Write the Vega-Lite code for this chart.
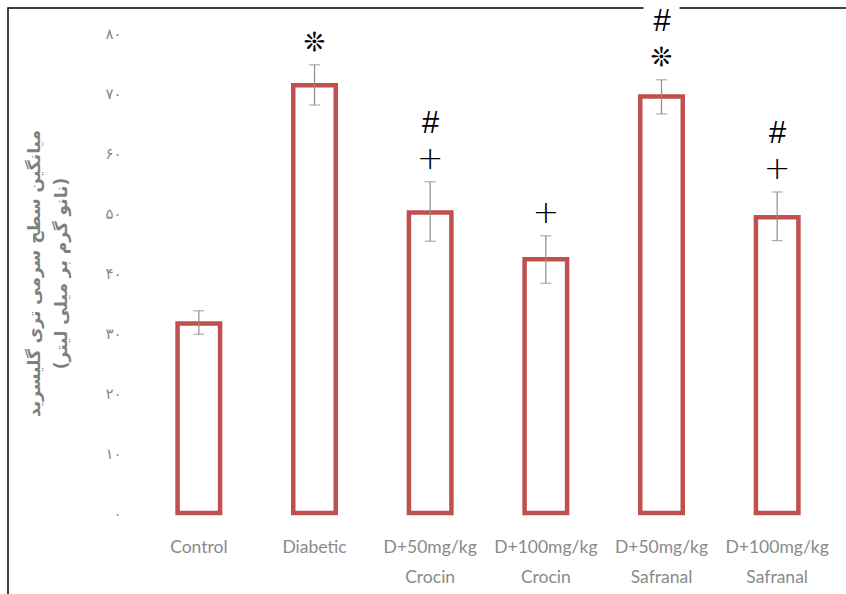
{
  "$schema": "https://vega.github.io/schema/vega-lite/v6.json",
  "width": 842,
  "height": 590,
  "autosize": {"type": "none"},
  "padding": {"left": 8, "top": 8, "right": -4, "bottom": -4},
  "background": "white",
  "config": {"view": {"stroke": "black", "strokeWidth": 1.5}},
  "data": {
    "values": [
      {"group": "Control", "mean": 31.6, "lo": 29.8, "hi": 33.7, "near": "", "far": ""},
      {"group": "Diabetic", "mean": 71.3, "lo": 68.0, "hi": 74.7, "near": "❊", "far": ""},
      {"group": "D+50mg/kg Crocin", "mean": 50.1, "lo": 45.3, "hi": 55.2, "near": "+", "far": "#"},
      {"group": "D+100mg/kg Crocin", "mean": 42.3, "lo": 38.3, "hi": 46.2, "near": "+", "far": ""},
      {"group": "D+50mg/kg Safranal", "mean": 69.4, "lo": 66.5, "hi": 72.2, "near": "❊", "far": "#"},
      {"group": "D+100mg/kg Safranal", "mean": 49.3, "lo": 45.4, "hi": 53.5, "near": "+", "far": "#"}
    ]
  },
  "encoding": {
    "x": {
      "field": "group",
      "type": "nominal",
      "sort": ["Control", "Diabetic", "D+50mg/kg Crocin", "D+100mg/kg Crocin", "D+50mg/kg Safranal", "D+100mg/kg Safranal"],
      "scale": {"range": [133, 827], "paddingInner": 0, "paddingOuter": 0},
      "axis": {
        "orient": "bottom",
        "offset": -85,
        "domain": false,
        "ticks": false,
        "grid": false,
        "labelAngle": 0,
        "labelExpr": "split(datum.label, ' ')",
        "labelColor": "#8a8a8a",
        "labelFont": "Lato",
        "labelFontSize": 17.5,
        "labelLineHeight": 30,
        "labelPadding": 25,
        "labelBaseline": "top",
        "title": null
      }
    }
  },
  "layer": [
    {
      "transform": [{"filter": "datum.far != ''"}],
      "mark": {"type": "point", "shape": "square", "filled": true, "fill": "white", "opacity": 1, "strokeWidth": 0, "size": 1300, "yOffset": -58},
      "encoding": {"y": {"field": "hi", "type": "quantitative"}}
    },
    {
      "mark": {"type": "bar", "fill": "white", "stroke": "#C0504D", "strokeWidth": 4.5, "size": 42.5},
      "encoding": {
        "y": {
          "field": "mean",
          "type": "quantitative",
          "scale": {"domain": [0, 80], "range": [505, 25], "nice": false, "zero": true},
          "axis": {
            "values": [0, 10, 20, 30, 40, 50, 60, 70, 80],
            "offset": -115,
            "domain": false,
            "ticks": false,
            "grid": false,
            "labelPadding": 2,
            "labelColor": "#8a8a8a",
            "labelFont": "DejaVu Sans",
            "labelFontSize": 15,
            "labelExpr": "replace(replace(replace(replace(replace(replace(replace(replace(replace(datum.label,'0','۰'),'1','۱'),'2','۲'),'3','۳'),'4','۴'),'5','۵'),'6','۶'),'7','۷'),'8','۸')",
            "title": ["میانگین سطح سرمی تری گلیسرید", "(نانو گرم بر میلی لیتر)"],
            "titleColor": "#7f7f7f",
            "titleFont": "DejaVu Sans",
            "titleFontSize": 17,
            "titleFontWeight": "bold",
            "titleLineHeight": 27,
            "titlePadding": 34
          }
        }
      }
    },
    {
      "mark": {"type": "rule", "color": "#8c8c8c", "strokeWidth": 1.2},
      "encoding": {"y": {"field": "lo", "type": "quantitative"}, "y2": {"field": "hi"}}
    },
    {
      "mark": {"type": "tick", "color": "#8c8c8c", "thickness": 1.2, "size": 11},
      "encoding": {"y": {"field": "lo", "type": "quantitative"}}
    },
    {
      "mark": {"type": "tick", "color": "#8c8c8c", "thickness": 1.2, "size": 11},
      "encoding": {"y": {"field": "hi", "type": "quantitative"}}
    },
    {
      "transform": [{"filter": "datum.near == '+'"}],
      "mark": {"type": "text", "dy": -23, "baseline": "middle", "fontSize": 32, "font": "DejaVu Sans", "fontWeight": 200, "color": "black"},
      "encoding": {"y": {"field": "hi", "type": "quantitative"}, "text": {"field": "near"}}
    },
    {
      "transform": [{"filter": "datum.near == '❊'"}],
      "mark": {"type": "text", "dy": -22, "baseline": "middle", "fontSize": 26, "font": "DejaVu Sans", "color": "black"},
      "encoding": {"y": {"field": "hi", "type": "quantitative"}, "text": {"field": "near"}}
    },
    {
      "transform": [{"filter": "datum.far != ''"}],
      "mark": {"type": "text", "dy": -58, "baseline": "middle", "fontSize": 31, "fontStyle": "italic", "font": "Liberation Sans", "color": "black"},
      "encoding": {"y": {"field": "hi", "type": "quantitative"}, "text": {"field": "far"}}
    }
  ]
}
